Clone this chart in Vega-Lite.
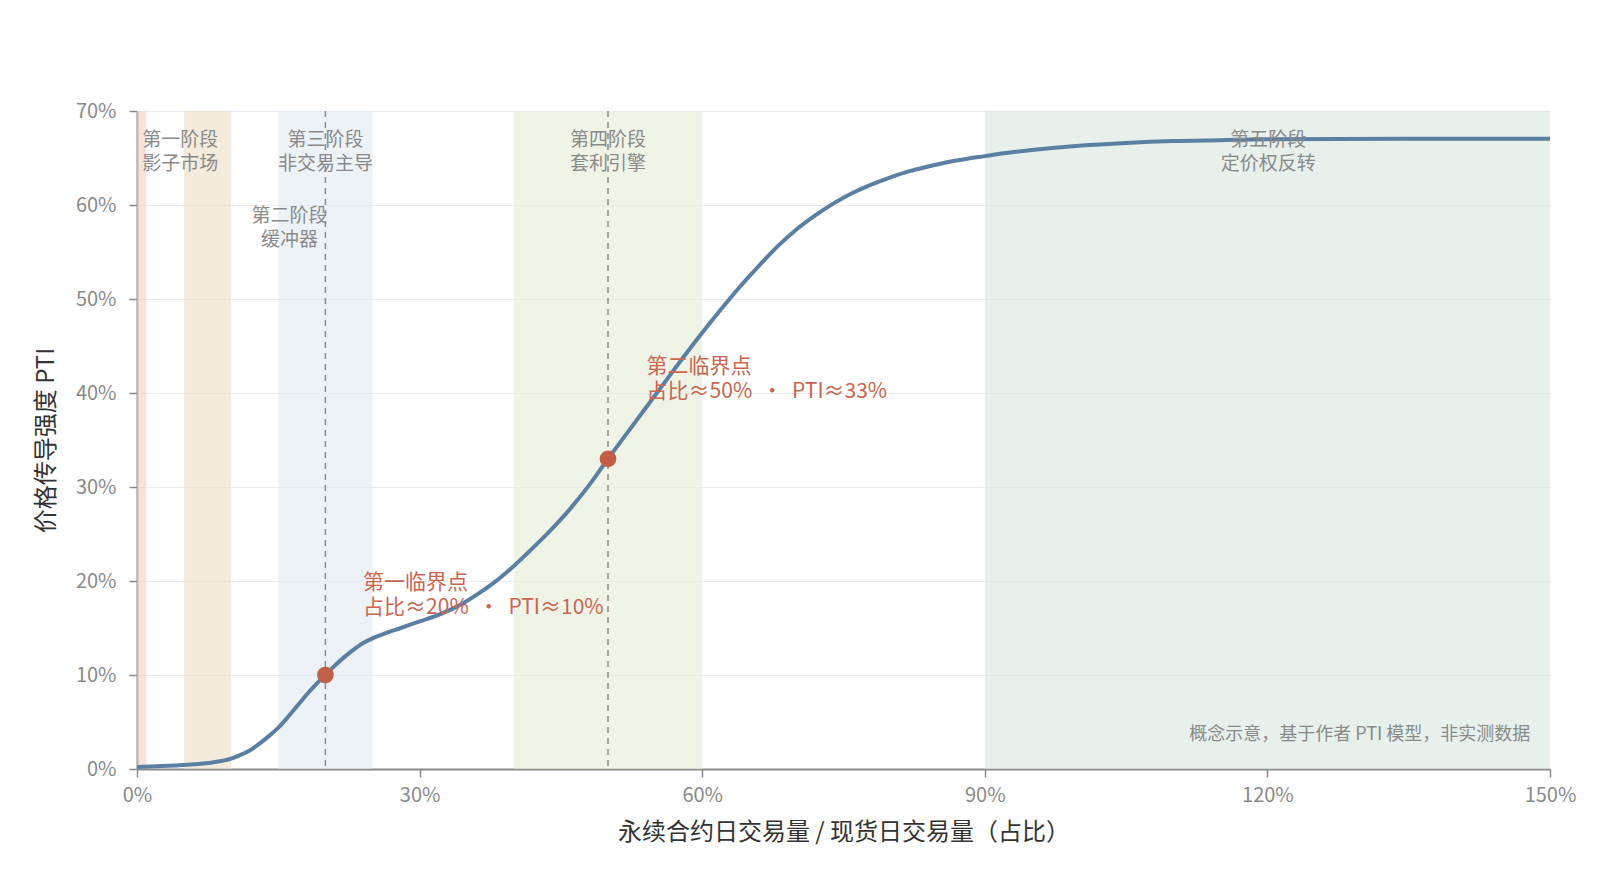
{
  "$schema": "https://vega.github.io/schema/vega-lite/v6.json",
  "width": 1413,
  "height": 658,
  "autosize": {"type": "none"},
  "padding": {"left": 137, "top": 111, "right": 50, "bottom": 120},
  "background": "#ffffff",
  "config": {
    "font": "Noto Sans CJK SC",
    "view": {"stroke": null},
    "axis": {
      "domainColor": "#8a8a8a",
      "domainWidth": 2,
      "tickColor": "#8a8a8a",
      "tickWidth": 1.5,
      "tickSize": 8,
      "labelColor": "#8a8a8a",
      "labelFontSize": 20,
      "labelFont": "Noto Sans CJK SC",
      "titleFont": "Noto Sans CJK SC",
      "titleColor": "#333333",
      "titleFontWeight": "normal",
      "gridColor": "#e8ebef",
      "gridWidth": 1
    }
  },
  "datasets": {
    "curve": [
      {"share": 0, "pti": 0.2}, {"share": 2, "pti": 0.28}, {"share": 4, "pti": 0.38}, {"share": 6, "pti": 0.5},
      {"share": 8, "pti": 0.7}, {"share": 10, "pti": 1.1}, {"share": 11, "pti": 1.5}, {"share": 12, "pti": 2.0},
      {"share": 13, "pti": 2.7}, {"share": 14, "pti": 3.5}, {"share": 15, "pti": 4.4}, {"share": 16, "pti": 5.5},
      {"share": 17, "pti": 6.7}, {"share": 18, "pti": 7.9}, {"share": 19, "pti": 9.0}, {"share": 20, "pti": 10.0},
      {"share": 21, "pti": 11.0}, {"share": 22, "pti": 11.9}, {"share": 23, "pti": 12.7}, {"share": 24, "pti": 13.4},
      {"share": 25, "pti": 13.9}, {"share": 26, "pti": 14.3}, {"share": 28, "pti": 15.0}, {"share": 30, "pti": 15.7},
      {"share": 32, "pti": 16.4}, {"share": 34, "pti": 17.3}, {"share": 36, "pti": 18.5}, {"share": 38, "pti": 19.9},
      {"share": 40, "pti": 21.6}, {"share": 42, "pti": 23.5}, {"share": 44, "pti": 25.5}, {"share": 46, "pti": 27.7},
      {"share": 48, "pti": 30.2}, {"share": 50, "pti": 33.0}, {"share": 52, "pti": 35.7}, {"share": 54, "pti": 38.4},
      {"share": 56, "pti": 41.1}, {"share": 58, "pti": 43.8}, {"share": 60, "pti": 46.4}, {"share": 62, "pti": 48.9},
      {"share": 64, "pti": 51.3}, {"share": 66, "pti": 53.5}, {"share": 68, "pti": 55.6}, {"share": 70, "pti": 57.4},
      {"share": 72, "pti": 58.9}, {"share": 74, "pti": 60.2}, {"share": 76, "pti": 61.3}, {"share": 78, "pti": 62.2},
      {"share": 80, "pti": 62.95}, {"share": 82, "pti": 63.6}, {"share": 84, "pti": 64.1}, {"share": 86, "pti": 64.55},
      {"share": 88, "pti": 64.9}, {"share": 90, "pti": 65.2}, {"share": 92, "pti": 65.5}, {"share": 95, "pti": 65.85},
      {"share": 100, "pti": 66.3}, {"share": 105, "pti": 66.6}, {"share": 110, "pti": 66.8}, {"share": 115, "pti": 66.9},
      {"share": 120, "pti": 67.0}, {"share": 135, "pti": 67.05}, {"share": 150, "pti": 67.05}
    ],
    "bands": [
      {"phase": "第一阶段", "start": 0, "end": 1, "color": "#f0d0c5"},
      {"phase": "第二阶段", "start": 5, "end": 10, "color": "#ebdec3"},
      {"phase": "第三阶段", "start": 15, "end": 25, "color": "#e1e9f2"},
      {"phase": "第四阶段", "start": 40, "end": 60, "color": "#e6edd7"},
      {"phase": "第五阶段", "start": 90, "end": 150, "color": "#d7e6de"}
    ],
    "phaseLabels": [
      {"x": 4.6, "y": 67.9, "label": "第一阶段\n影子市场"},
      {"x": 16.2, "y": 59.8, "label": "第二阶段\n缓冲器"},
      {"x": 20, "y": 67.9, "label": "第三阶段\n非交易主导"},
      {"x": 50, "y": 67.9, "label": "第四阶段\n套利引擎"},
      {"x": 120.1, "y": 67.9, "label": "第五阶段\n定价权反转"}
    ],
    "critical": [
      {"share": 20, "pti": 10, "label": "第一临界点\n占比≈20%\u00a0\u00a0・\u00a0\u00a0PTI≈10%", "lx": 24.0, "ly": 21.0},
      {"share": 50, "pti": 33, "label": "第二临界点\n占比≈50%\u00a0\u00a0・\u00a0\u00a0PTI≈33%", "lx": 54.1, "ly": 43.9}
    ],
    "note": [
      {"x": 147.9, "y": 3.6, "label": "概念示意，基于作者 PTI 模型，非实测数据"}
    ]
  },
  "layer": [
    {
      "data": {"name": "bands"},
      "mark": {"type": "rect", "opacity": 0.6},
      "encoding": {
        "x": {"field": "start", "type": "quantitative", "scale": {"domain": [0, 150], "nice": false, "zero": false},
          "axis": {"values": [0, 30, 60, 90, 120, 150], "labelExpr": "datum.value + '%'", "grid": false, "labelFlush": false,
            "title": "永续合约日交易量 / 现货日交易量（占比）", "titleFontSize": 24, "titlePadding": 15, "labelPadding": 8}},
        "x2": {"field": "end"},
        "color": {"field": "color", "type": "nominal", "scale": null}
      }
    },
    {
      "data": {"values": [{"share": 20}, {"share": 50}]},
      "mark": {"type": "rule", "color": "#8a8a8a", "strokeWidth": 1.5, "strokeDash": [6, 5]},
      "encoding": {"x": {"field": "share", "type": "quantitative"}}
    },
    {
      "data": {"name": "curve"},
      "mark": {"type": "line", "color": "#5b7ea3", "strokeWidth": 4, "interpolate": "monotone"},
      "encoding": {
        "x": {"field": "share", "type": "quantitative"},
        "y": {"field": "pti", "type": "quantitative", "scale": {"domain": [0, 70], "nice": false},
          "axis": {"values": [0, 10, 20, 30, 40, 50, 60, 70], "labelExpr": "datum.value + '%'", "grid": true,
            "title": "价格传导强度 PTI", "titleFontSize": 24, "titlePadding": 17, "labelPadding": 13}}
      }
    },
    {
      "data": {"name": "critical"},
      "mark": {"type": "circle", "color": "#c0604b", "opacity": 1, "size": 280},
      "encoding": {
        "x": {"field": "share", "type": "quantitative"},
        "y": {"field": "pti", "type": "quantitative"}
      }
    },
    {
      "data": {"name": "critical"},
      "mark": {"type": "text", "color": "#c8664f", "fontSize": 21, "align": "left", "baseline": "top", "lineBreak": "\n", "lineHeight": 25},
      "encoding": {
        "x": {"field": "lx", "type": "quantitative"},
        "y": {"field": "ly", "type": "quantitative"},
        "text": {"field": "label"}
      }
    },
    {
      "data": {"name": "phaseLabels"},
      "mark": {"type": "text", "color": "#8a8a8a", "fontSize": 19, "align": "center", "baseline": "top", "lineBreak": "\n", "lineHeight": 24},
      "encoding": {
        "x": {"field": "x", "type": "quantitative"},
        "y": {"field": "y", "type": "quantitative"},
        "text": {"field": "label"}
      }
    },
    {
      "data": {"name": "note"},
      "mark": {"type": "text", "color": "#8a8a8a", "fontSize": 18, "align": "right", "baseline": "middle"},
      "encoding": {
        "x": {"field": "x", "type": "quantitative"},
        "y": {"field": "y", "type": "quantitative"},
        "text": {"field": "label"}
      }
    }
  ]
}
